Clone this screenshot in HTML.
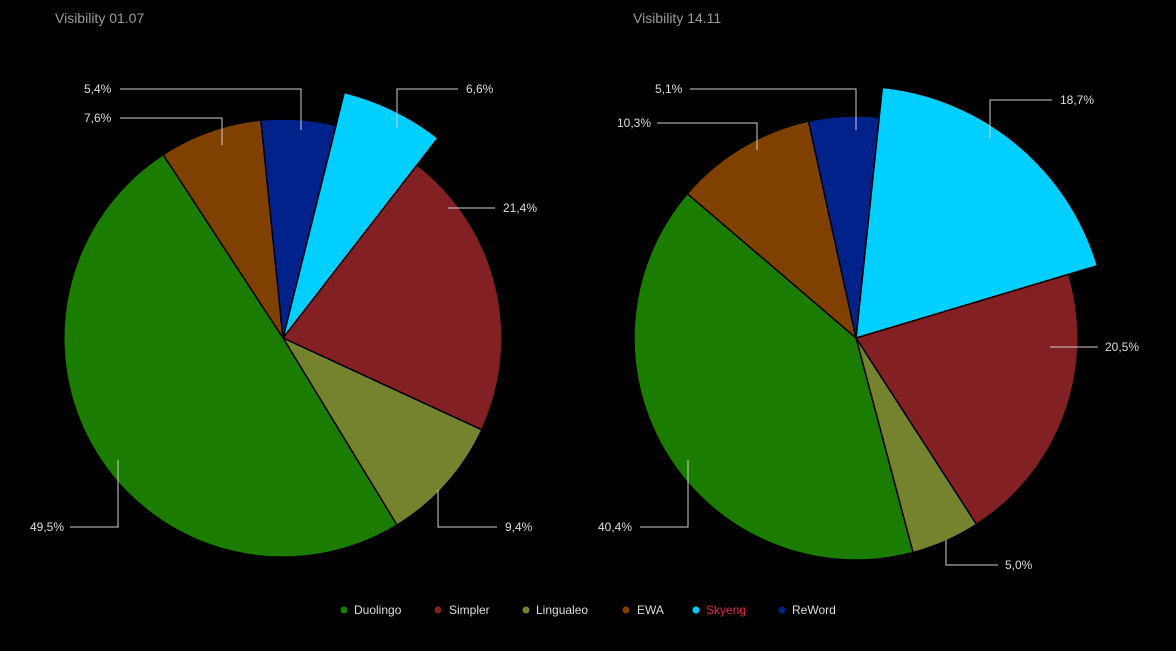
<!DOCTYPE html>
<html><head><meta charset="utf-8"><style>
html,body{margin:0;padding:0;background:#000;}
svg{display:block;font-family:"Liberation Sans",sans-serif;}
</style></head><body>
<svg id="s" width="1176" height="651" viewBox="0 0 1176 651" xmlns="http://www.w3.org/2000/svg">
<rect width="1176" height="651" fill="#000"/>
<text x="55" y="23" font-size="14" fill="#9a9a9a">Visibility 01.07</text>
<text x="633" y="23" font-size="14" fill="#9a9a9a">Visibility 14.11</text>
<g id="pies"></g>
<g stroke="#cfcfcf" stroke-width="1" fill="none">
<polyline points="120,89 301,89 301,130"/>
<polyline points="120,118 222,118 222,145"/>
<polyline points="458,89 397,89 397,128"/>
<polyline points="448,208 495,208"/>
<polyline points="438,490 438,527 497,527"/>
<polyline points="70,527 118,527 118,460"/>
<polyline points="690,89 856,89 856,130"/>
<polyline points="657,123 757,123 757,150"/>
<polyline points="1052,100 990,100 990,138"/>
<polyline points="1050,347 1098,347"/>
<polyline points="946,540 946,565 998,565"/>
<polyline points="640,527 688,527 688,460"/>
</g>
<g font-size="12" fill="#dcdcdc">
<text x="84" y="93">5,4%</text>
<text x="84" y="122">7,6%</text>
<text x="466" y="93">6,6%</text>
<text x="503" y="212">21,4%</text>
<text x="505" y="531">9,4%</text>
<text x="30" y="531">49,5%</text>
<text x="655" y="93">5,1%</text>
<text x="617" y="127">10,3%</text>
<text x="1060" y="104">18,7%</text>
<text x="1105" y="351">20,5%</text>
<text x="1005" y="569">5,0%</text>
<text x="598" y="531">40,4%</text>
</g>
<g font-size="12">
<circle cx="344" cy="610" r="3.5" fill="#1a7d00"/><text x="354" y="614" fill="#dcdcdc">Duolingo</text>
<circle cx="438" cy="610" r="3.5" fill="#822024"/><text x="449" y="614" fill="#dcdcdc">Simpler</text>
<circle cx="526" cy="610" r="3.5" fill="#75822e"/><text x="536" y="614" fill="#dcdcdc">Lingualeo</text>
<circle cx="626" cy="610" r="3.5" fill="#7f4000"/><text x="637" y="614" fill="#dcdcdc">EWA</text>
<circle cx="696" cy="610" r="3.5" fill="#00cfff"/><text x="706" y="614" fill="#e8253f">Skyeng</text>
<circle cx="782" cy="610" r="3.5" fill="#00228a"/><text x="792" y="614" fill="#dcdcdc">ReWord</text>
</g>
</svg>
<script>
var C={Duolingo:"#1a7d00",Simpler:"#822024",Lingualeo:"#75822e",EWA:"#7f4000",Skyeng:"#00cfff",ReWord:"#00228a"};
function pie(cx,cy,r,rx,start,data){
 var g=document.getElementById('pies'),a=start,out="";
 data.forEach(function(d){
  var sw=d[1]*3.6,b=a+sw,R=d[0]=="Skyeng"?rx:r;
  function p(t){t=t*Math.PI/180;return (cx+R*Math.sin(t)).toFixed(2)+","+(cy-R*Math.cos(t)).toFixed(2);}
  out+='<path d="M'+cx+','+cy+' L'+p(a)+' A'+R+','+R+' 0 '+(sw>180?1:0)+' 1 '+p(b)+' Z" fill="'+C[d[0]]+'" stroke="#000" stroke-width="1.5" stroke-linejoin="round"/>';
  a=b;
 });
 g.innerHTML+=out;
}
pie(283,338,219,253,14,[["Skyeng",6.6],["Simpler",21.4],["Lingualeo",9.4],["Duolingo",49.5],["EWA",7.6],["ReWord",5.5]]);
pie(856,338,222,252,6,[["Skyeng",18.7],["Simpler",20.5],["Lingualeo",5.0],["Duolingo",40.4],["EWA",10.3],["ReWord",5.1]]);
</script>
</body></html>
